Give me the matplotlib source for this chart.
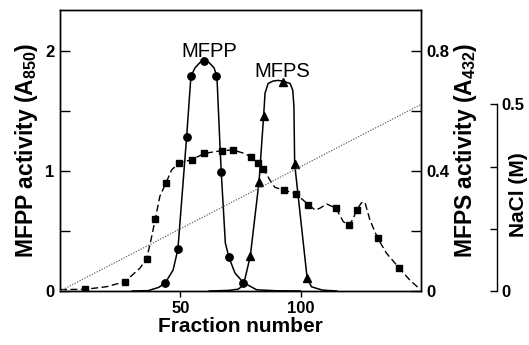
import numpy as np
import matplotlib.pyplot as plt
from matplotlib.ticker import FixedLocator

plt.rcParams['font.family'] = ['Liberation Sans', 'DejaVu Sans']
plt.rcParams['mathtext.fontset'] = 'custom'
plt.rcParams['mathtext.bf'] = 'Liberation Sans:bold'
plt.rcParams['mathtext.rm'] = 'Liberation Sans'

# MFPP activity (A850), solid line with circles
mfpp_x = [30, 36.6, 41, 43.8, 47, 49, 52.6, 54.4, 56.1, 58.2, 59.8, 61.9, 64, 65.2,
          66.5, 67, 68.7, 70.2, 72.7, 76.2, 81.7, 90, 100]
mfpp_y = [0, 0.003, 0.03, 0.07, 0.175, 0.35, 1.28, 1.79, 1.86, 1.905, 1.917, 1.905, 1.86, 1.79,
          1.2, 0.99, 0.4, 0.28, 0.15, 0.07, 0.01, 0.002, 0]
mfpp_mx = [43.8, 49, 52.6, 54.4, 60, 65, 67, 70.2, 76.2]
mfpp_my = [0.07, 0.35, 1.28, 1.79, 1.92, 1.79, 0.99, 0.28, 0.07]

# MFPS activity (A432), solid line with triangles
mfps_x = [62, 70, 74, 75.5, 76.9, 79.1, 82.7, 84.6, 85.2, 86.5, 88.6, 90.5, 92.5,
          95.6, 96.7, 97.2, 97.5, 102.7, 104.5, 109, 115]
mfps_y = [0, 0.002, 0.006, 0.015, 0.042, 0.118, 0.364, 0.582, 0.66, 0.692, 0.70, 0.702, 0.70,
          0.692, 0.67, 0.616, 0.424, 0.042, 0.014, 0.003, 0]
mfps_mx = [79.1, 82.7, 84.6, 92.5, 97.5, 102.7]
mfps_my = [0.118, 0.364, 0.582, 0.696, 0.424, 0.042]

# dashed profile with squares (left axis scale)
prof_x = [0, 10.5, 19.4, 27, 33.2, 36, 37.8, 39.6, 41.5, 44, 46.4, 49.6, 54.8, 60, 67.2, 72,
          76, 79.4, 82.1, 84.5, 87.2, 89.3, 93.2, 98, 103.2, 106, 108, 110.8, 114.7, 117.7,
          120.2, 121.9, 123.2, 125.3, 126.7, 128.8, 132, 135.7, 141, 145.4, 149.3]
prof_y = [0.012, 0.014, 0.036, 0.078, 0.19, 0.27, 0.425, 0.60, 0.79, 0.90, 1.01, 1.067, 1.095,
          1.147, 1.17, 1.175, 1.15, 1.12, 1.07, 1.02, 0.925, 0.864, 0.84, 0.81, 0.72, 0.675,
          0.69, 0.725, 0.69, 0.578, 0.55, 0.605, 0.675, 0.736, 0.74, 0.59, 0.44, 0.314, 0.19,
          0.09, 0.02]
prof_mx = [10.5, 27, 36, 39.6, 44, 49.6, 54.8, 60, 67.2, 72, 79.4, 82.1, 84.5, 93.2, 98,
           103.2, 114.7, 120.2, 123.2, 132, 141]
prof_my = [0.014, 0.078, 0.27, 0.60, 0.90, 1.067, 1.095, 1.147, 1.17, 1.175, 1.12, 1.07, 1.02,
           0.84, 0.81, 0.72, 0.69, 0.55, 0.675, 0.44, 0.19]

# NaCl gradient
nacl_x = [0, 150]
nacl_y = [0, 0.5]

fig = plt.figure(figsize=(5.29, 3.45), dpi=100)
ax = fig.add_axes([60 / 529, 1 - 291 / 345, 361 / 529, 281 / 345])
ax2 = ax.twinx()
ax3 = ax.twinx()

ymax = 2.342
ax.set_xlim(0, 150)
ax.set_ylim(0, ymax)
ax2.set_ylim(0, ymax * 0.4)
ax3.set_ylim(0, 0.753)

ax3.plot(nacl_x, nacl_y, color='#666666', lw=0.9, ls=(0, (1, 1.2)), zorder=1)
ax.plot(prof_x, prof_y, color='black', lw=1.0, ls=(0, (5, 2.5)))
ax.plot(prof_mx, prof_my, 's', color='black', ms=3.8)
ax.plot(mfpp_x, mfpp_y, color='black', lw=1.1)
ax.plot(mfpp_mx, mfpp_my, 'o', color='black', ms=5.3)
ax2.plot(mfps_x, mfps_y, color='black', lw=1.1)
ax2.plot(mfps_mx, mfps_my, '^', color='black', ms=6)

bold = dict(fontsize=12, fontweight='bold')

ax.set_xticks([50, 100])
ax.set_xticklabels(['50', '100'], **bold)
ax.tick_params(axis='x', direction='out', length=4, width=1, pad=3)
ax.set_yticks([0, 1, 2])
ax.set_yticklabels(['0', '1', '2'], **bold)
ax.yaxis.set_minor_locator(FixedLocator([0.5, 1.5]))
ax.tick_params(axis='y', which='both', direction='in', length=7, width=1, pad=4)

ax2.set_yticks([0, 0.4, 0.8])
ax2.set_yticklabels(['0', '0.4', '0.8'], **bold)
ax2.yaxis.set_minor_locator(FixedLocator([0.2, 0.6]))
ax2.tick_params(axis='y', which='both', direction='in', length=7, width=1, pad=4)

ax3.spines['right'].set_position(('axes', (497 - 60) / 361))
ax3.spines['right'].set_bounds(0, 0.5)
for s in ['top', 'left', 'bottom']:
    ax3.spines[s].set_visible(False)
ax3.set_yticks([0, 0.5])
ax3.set_yticklabels(['0', '0.5'], **bold)
ax3.yaxis.set_minor_locator(FixedLocator([0.5 / 3, 1.0 / 3]))
ax3.tick_params(axis='y', which='both', direction='in', length=5, width=1, pad=3)

for a in (ax, ax2, ax3):
    for s in a.spines.values():
        s.set_linewidth(1.0)

ax.set_xlabel('Fraction number', fontsize=15, fontweight='bold', labelpad=1)
ax.set_ylabel(r'MFPP activity (A$_\mathbf{850}$)', fontsize=16.5, fontweight='bold', labelpad=4)
ax2.set_ylabel(r'MFPS activity (A$_\mathbf{432}$)', fontsize=16.5, fontweight='bold', labelpad=2)
fig.text(519 / 529, 1 - 195 / 345, 'NaCl (M)', fontsize=15, fontweight='bold',
         rotation=90, ha='center', va='center')

ax.text(61.9, 1.95, 'MFPP', fontsize=14.5, ha='center', va='baseline')
ax.text(92.2, 1.78, 'MFPS', fontsize=14.5, ha='center', va='baseline')

fig.savefig('out.png', dpi=100)
